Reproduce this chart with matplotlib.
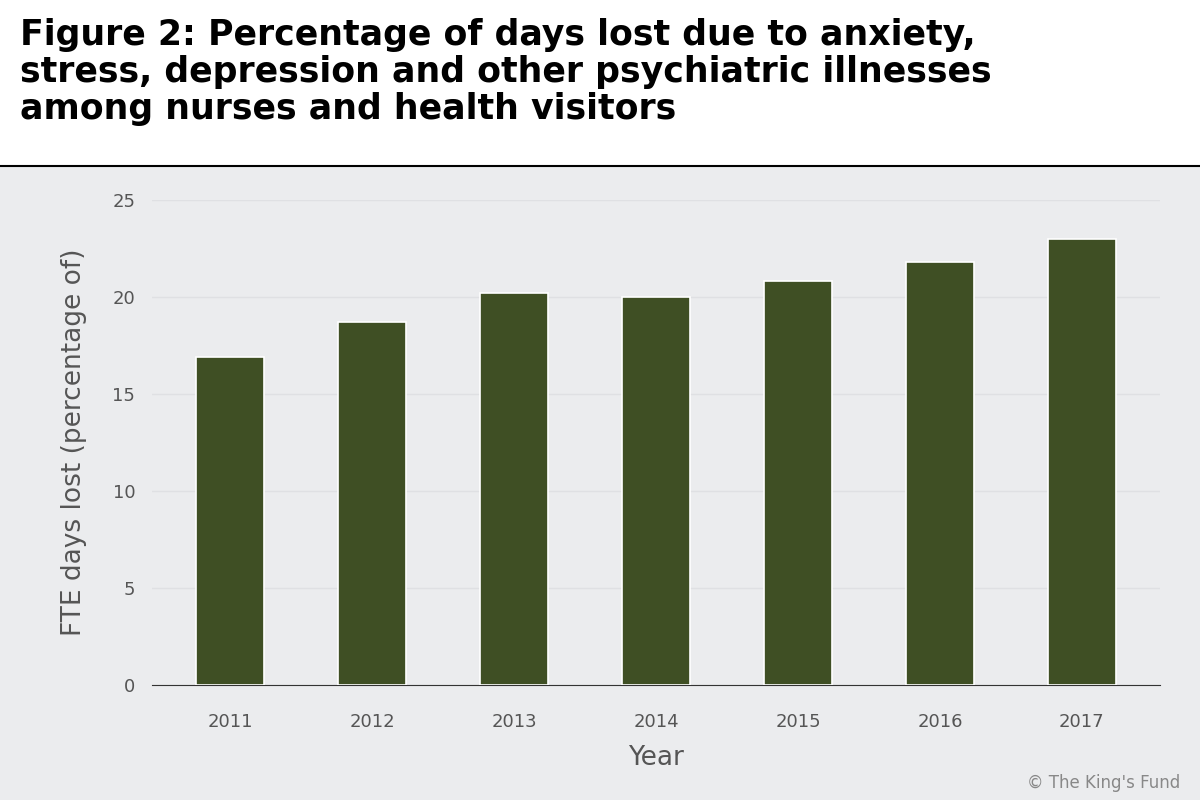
import matplotlib
matplotlib.use("Agg")
import matplotlib.pyplot as plt
from matplotlib.patches import Rectangle
from matplotlib.lines import Line2D

years = ["2011", "2012", "2013", "2014", "2015", "2016", "2017"]
values = [16.9, 18.7, 20.2, 20.0, 20.8, 21.8, 23.0]

plt.rcParams['font.family'] = ['DejaVu Sans']
fig = plt.figure(figsize=(12, 8), dpi=100)
fig.patch.set_facecolor("white")
bg = "#ebecee"
fig.patches.append(Rectangle((0, 0), 1, 1 - 166/800, transform=fig.transFigure, facecolor=bg, edgecolor="none", zorder=-10))
fig.lines.append(Line2D([0, 1], [1 - 166/800]*2, transform=fig.transFigure, color="black", lw=1.5, zorder=-5))
fig.text(20/1200, 1 - 18/800, "Figure 2: Percentage of days lost due to anxiety,\nstress, depression and other psychiatric illnesses\namong nurses and health visitors",
         fontsize=25, fontweight="bold", va="top", ha="left", linespacing=1.12)

ax = fig.add_axes([152/1200, 1 - 685/800, (1160-152)/1200, (685-200)/800])
ax.set_facecolor(bg)
ax.set_zorder(1)
x = range(len(years))
ax.bar(x, values, width=0.48, color="#3f4f24", edgecolor="white", linewidth=1.2, zorder=3)
ax.set_xlim(-0.55, len(years) - 0.45)
ax.set_ylim(0, 25)
ax.set_yticks([0, 5, 10, 15, 20, 25])
ax.set_xticks(list(x))
ax.set_xticklabels(years)
ax.grid(axis="y", color="#dfe0e3", lw=1, zorder=0)
for s in ["top", "right", "left"]:
    ax.spines[s].set_visible(False)
ax.spines["bottom"].set_color("#333333")
ax.tick_params(axis="both", length=0, labelsize=13, colors="#555555", pad=12)
ax.tick_params(axis="x", pad=20)
ax.set_xlabel("Year", fontsize=19, color="#555555", labelpad=10)
ax.set_ylabel("FTE days lost (percentage of)", fontsize=19, color="#555555", labelpad=18)
fig.text(1180/1200, 1 - 783/800, "© The King's Fund", fontsize=12, color="#888888", ha="right", va="center")
fig.savefig("out.png", dpi=100, facecolor=fig.get_facecolor())
